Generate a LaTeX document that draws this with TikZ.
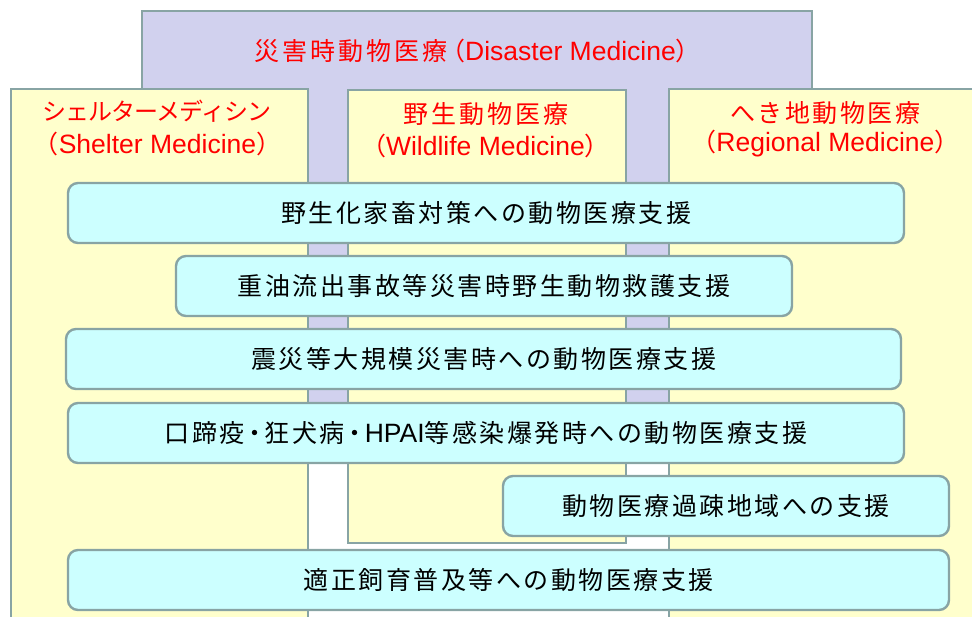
\documentclass[tikz,border=0pt]{standalone}
\usepackage{fontspec}
\setmainfont{Liberation Sans}
\newfontfamily\jp[LetterSpace=10]{Noto Sans CJK JP}
\newfontfamily\jpt[LetterSpace=12]{Noto Sans CJK JP}
\newfontfamily\jpn[LetterSpace=-4]{Noto Sans CJK JP}
\newfontfamily\jpk{Noto Sans CJK JP}
\definecolor{bord}{HTML}{88A4A4}
\definecolor{purp}{HTML}{D1D1EE}
\definecolor{yel}{HTML}{FFFFCC}
\definecolor{cyn}{HTML}{CCFFFF}
\newcommand{\latn}[1]{{\fontsize{26.5}{30}\rmfamily\selectfont #1}}
\newcommand{\lpar}{\makebox[18pt][r]{\jpk （}}
\newcommand{\rpar}{\makebox[18pt][l]{\jpk ）}}
\newcommand{\mdot}{\makebox[20pt]{\jpk ・}}
\begin{document}
\begin{tikzpicture}[x=1pt,y=-1pt,
  panel/.style={draw=bord,line width=2.4pt,inner sep=0pt,anchor=north west},
  item/.style={draw=bord,line width=2.4pt,fill=cyn,rounded corners=10pt,inner sep=0pt,
    minimum height=60pt,font=\fontsize{25}{30}\selectfont\jp},
  head/.style={text=red,inner sep=0pt,font=\fontsize{25}{30}\selectfont\jp}
]
\useasboundingbox (0,0) rectangle (972,616);
\clip (0,0) rectangle (972,616);
% panels
\node[panel,fill=purp,minimum width=670pt,minimum height=452pt] (dis) at (141,10) {};
\node[panel,fill=yel,minimum width=297pt,minimum height=560pt] (shel) at (10,88) {};
\node[panel,fill=yel,minimum width=278pt,minimum height=453pt] (wild) at (347,89) {};
\node[panel,fill=yel,minimum width=330pt,minimum height=560pt] (regi) at (668,88) {};
% headings
\node[head] (tdis) at (474,51) {{\jpt 災害時動物医療}\lpar\latn{Disaster Medicine}\rpar};
\node[head,font=\fontsize{24}{30}\selectfont\jpn] (tshel1) at (157,111) {シェルターメディシン};
\node[head] (tshel2) at (157.5,144) {\lpar\latn{Shelter Medicine}\rpar};
\node[head,font=\fontsize{25}{30}\selectfont\jpt] (twild1) at (486,114) {野生動物医療};
\node[head] (twild2) at (485.5,146) {\lpar\latn{Wildlife Medicine}\rpar};
\node[head] (tregi1) at (825,113) {へき地動物医療};
\node[head] (tregi2) at (825.5,144) {\lpar\latn{Regional Medicine}\rpar};
% items
\node[item,minimum width=836pt] (b1) at (486,213) {野生化家畜対策への動物医療支援};
\node[item,minimum width=616pt] (b2) at (484,286) {重油流出事故等災害時野生動物救護支援};
\node[item,minimum width=835pt] (b3) at (483.5,359) {震災等大規模災害時への動物医療支援};
\node[item,minimum width=836pt] (b4) at (486,433) {口蹄疫\mdot 狂犬病\mdot\latn{HPAI}等感染爆発時への動物医療支援};
\node[item,minimum width=446pt] (b5) at (726,506) {動物医療過疎地域への支援};
\node[item,minimum width=881pt] (b6) at (508.5,580) {適正飼育普及等への動物医療支援};
\end{tikzpicture}
\end{document}
